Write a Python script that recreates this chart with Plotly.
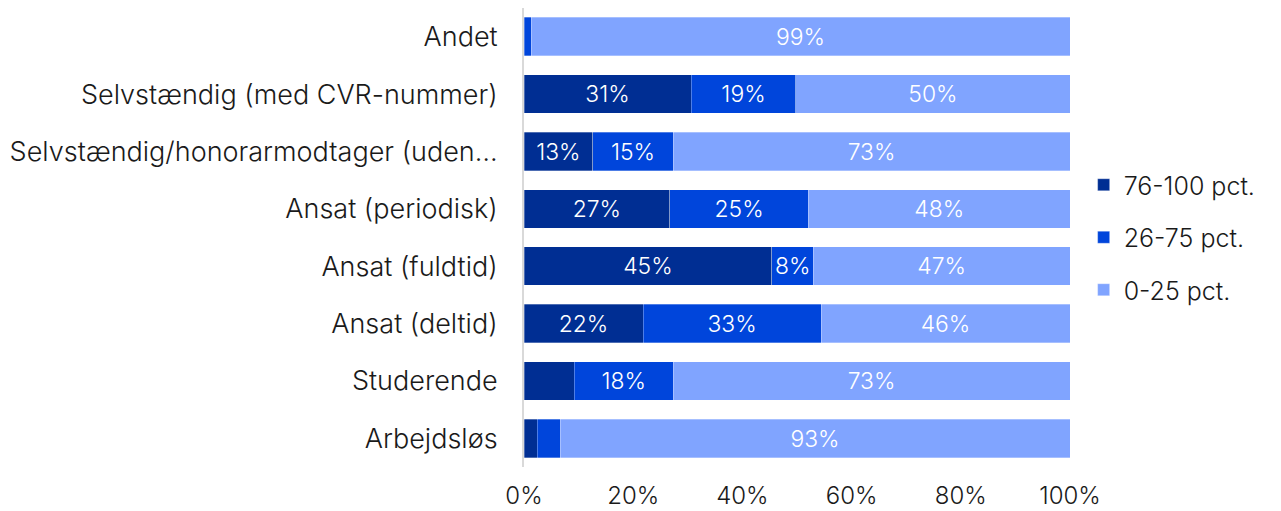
import plotly.graph_objects as go

# Employment groups, bottom to top as drawn on the y axis
categories = [
    "Arbejdsløs",
    "Studerende",
    "Ansat (deltid)",
    "Ansat (fuldtid)",
    "Ansat (periodisk)",
    "Selvstændig/honorarmodtager (uden…",
    "Selvstændig (med CVR-nummer)",
    "Andet",
]

# Share of respondents in each band (percent)
share_76_100 = [2.4, 9.2, 21.8, 45.4, 26.7, 12.6, 30.6, 0.0]
share_26_75 = [4.2, 18.1, 32.6, 7.6, 25.4, 14.7, 19.2, 1.3]
share_0_25 = [93.4, 72.7, 45.6, 47.0, 47.9, 72.7, 50.2, 98.7]

# Which segment labels are printed inside the bars
show_76_100 = [False, False, True, True, True, True, True, False]
show_26_75 = [False, True, True, True, True, True, True, False]
show_0_25 = [True, True, True, True, True, True, True, True]

series = [
    ("76-100 pct.", share_76_100, show_76_100, "#002E93"),
    ("26-75 pct.", share_26_75, show_26_75, "#0045DB"),
    ("0-25 pct.", share_0_25, show_0_25, "#80A4FF"),
]

FONT = "Inter"
INK = "#1a1a1a"

fig = go.Figure()
for name, values, show, color in series:
    labels = [f"{round(v):d}%" if s else "" for v, s in zip(values, show)]
    fig.add_trace(
        go.Bar(
            y=categories,
            x=values,
            name=name,
            orientation="h",
            marker=dict(color=color, line=dict(color="rgba(255,255,255,0.6)", width=0.5)),
            text=labels,
            textposition="inside",
            insidetextanchor="middle",
            textangle=0,
            textfont=dict(color="white", size=25, family=FONT, weight=300),
            legendgroup=name,
            hoverinfo="skip",
        )
    )

fig.update_layout(
    barmode="stack",
    bargap=0.33,
    width=1281,
    height=511,
    margin=dict(l=524, r=211, t=8, b=44),
    paper_bgcolor="white",
    plot_bgcolor="white",
    font=dict(family=FONT, size=27, color=INK, weight=300),
    legend=dict(
        x=1.025,
        xanchor="left",
        y=0.5,
        yanchor="middle",
        traceorder="grouped",
        tracegroupgap=17,
        font=dict(size=25, family=FONT, color=INK, weight=300),
        bgcolor="rgba(0,0,0,0)",
    ),
    xaxis=dict(
        range=[0, 100],
        tickvals=[0, 20, 40, 60, 80, 100],
        ticktext=["0%", "20%", "40%", "60%", "80%", "100%"],
        showgrid=False,
        zeroline=False,
        showline=False,
        ticks="",
        automargin=False,
        ticklabelstandoff=12,
        tickfont=dict(size=24, family=FONT, color=INK, weight=300),
    ),
    yaxis=dict(
        categoryorder="array",
        categoryarray=categories,
        showgrid=False,
        zeroline=False,
        showline=True,
        linecolor="#d9d9d9",
        linewidth=2,
        ticks="",
        automargin=False,
        ticklabelstandoff=19,
        tickfont=dict(size=27, family=FONT, color=INK, weight=300),
    ),
    uniformtext=dict(minsize=10, mode="show"),
)

fig.write_html("out.html")
